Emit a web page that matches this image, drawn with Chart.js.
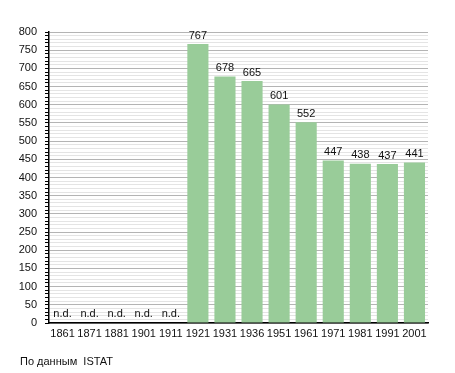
<!DOCTYPE html>
<html>
<head>
<meta charset="utf-8">
<script src="https://cdn.jsdelivr.net/npm/chart.js@4"></script>
<style>
  html, body { margin: 0; padding: 0; background: #fff; }
  #wrap { position: relative; width: 455px; height: 373px; }
  #note { position: absolute; left: 20px; top: 355px; font: 11px "Liberation Sans", Arial, sans-serif; color: #111; }
</style>
</head>
<body>
<div id="wrap">
  <canvas id="chart" width="455" height="373"></canvas>
  <div id="note">По данным&nbsp; ISTAT</div>
</div>
<script>
const years = ['1861', '1871', '1881', '1901', '1911', '1921', '1931', '1936', '1951', '1961', '1971', '1981', '1991', '2001'];
const population = [null, null, null, null, null, 767, 678, 665, 601, 552, 447, 438, 437, 441];
const yMax = 800;
const majorStep = 50;
const minorStep = 10;

const FONT = "'Liberation Sans', Arial, sans-serif";

// value labels on top of bars, "n.d." where there is no data
const valueLabels = {
  id: 'valueLabels',
  afterDatasetsDraw(chart) {
    const ctx = chart.ctx;
    const meta = chart.getDatasetMeta(0);
    const yScale = chart.scales.y;
    ctx.save();
    ctx.font = '11px ' + FONT;
    ctx.fillStyle = '#111';
    ctx.textAlign = 'center';
    ctx.textBaseline = 'bottom';
    meta.data.forEach((bar, i) => {
      const v = population[i];
      if (v == null) {
        ctx.fillText('n.d.', chart.scales.x.getPixelForValue(i), yScale.getPixelForValue(0) - 4);
      } else {
        ctx.fillText(String(v), bar.x, bar.y - 3);
      }
    });
    ctx.restore();
  }
};

new Chart(document.getElementById('chart'), {
  type: 'bar',
  data: {
    labels: years,
    datasets: [{
      data: population,
      backgroundColor: '#99cc99',
      borderWidth: 0,
      categoryPercentage: 1,
      barPercentage: 0.78
    }]
  },
  options: {
    responsive: false,
    animation: false,
    layout: { padding: { top: 32, right: 27, left: 0, bottom: 0 } },
    plugins: {
      legend: { display: false },
      tooltip: { enabled: false }
    },
    scales: {
      x: {
        grid: { display: false, drawTicks: false },
        border: { display: true, color: '#000', width: 1.5 },
        ticks: { color: '#111', font: { family: FONT, size: 11 }, padding: 4, maxRotation: 0, autoSkip: false },
        afterFit(s) { s.height = 50; }
      },
      y: {
        min: 0,
        max: yMax,
        grid: {
          color: c => (c.tick.value % majorStep === 0 ? '#b4b4b4' : '#e4e4e4'),
          tickColor: '#000',
          tickLength: 4,
          lineWidth: 1
        },
        border: { display: true, color: '#000', width: 1.5 },
        ticks: {
          stepSize: minorStep,
          autoSkip: false,
          padding: 8,
          color: '#111',
          font: { family: FONT, size: 11 },
          callback: v => (v % majorStep === 0 ? v : '')
        },
        afterFit(s) { s.width = 49; }
      }
    }
  },
  plugins: [valueLabels]
});
</script>
</body>
</html>
